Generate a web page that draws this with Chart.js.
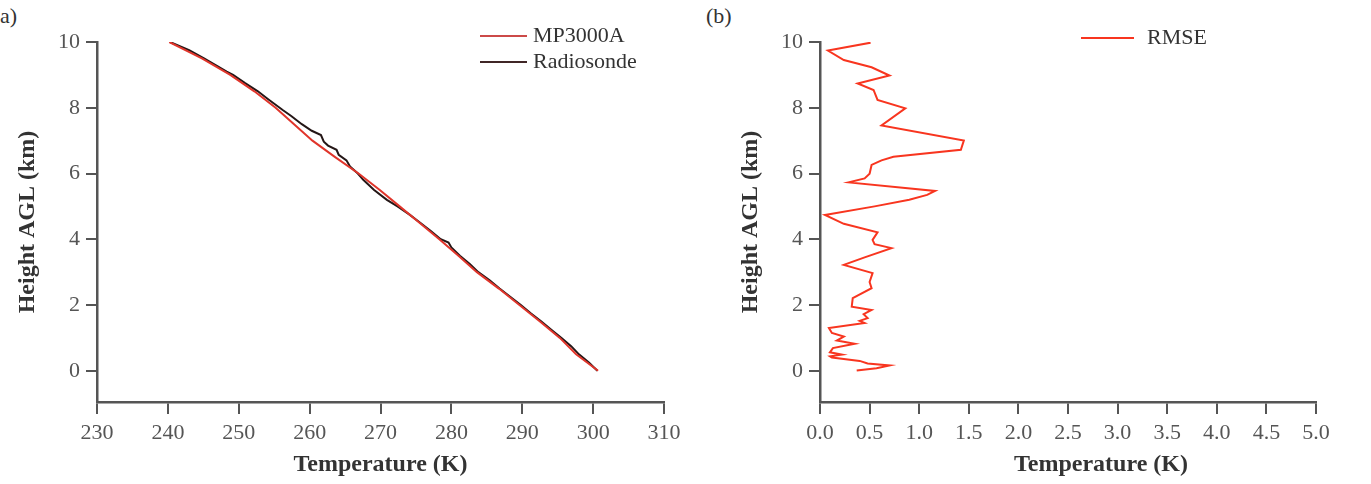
<!DOCTYPE html>
<html>
<head>
<meta charset="utf-8">
<script src="https://cdn.jsdelivr.net/npm/chart.js@4.4.1/dist/chart.umd.min.js"></script>
<style>
  body { margin: 0; background: #fff; width: 1371px; height: 484px; overflow: hidden; position: relative; font-family: "Liberation Serif", serif; }
  canvas { position: absolute; top: 0; }
  #tempChart { left: 0; }
  #rmseChart { left: 700px; }
  .tag { position: absolute; top: 3px; font-size: 22px; color: #333; }
</style>
</head>
<body>
<div class="tag" style="left:0px">a)</div>
<div class="tag" style="left:706px">(b)</div>
<canvas id="tempChart" width="700" height="484"></canvas>
<canvas id="rmseChart" width="671" height="484"></canvas>
<script>
// data block
var mpHeight = [0, 0.5, 1.0, 1.5, 2.0, 2.5, 3.0, 3.5, 4.0, 4.5, 5.0, 5.5, 6.0, 6.5, 7.0, 7.5, 8.0, 8.5, 9.0, 9.5, 10.0];
var mpTemp = [300.7, 297.6, 295.3, 292.5, 289.6, 286.7, 283.6, 281.0, 278.3, 275.5, 272.7, 269.9, 266.9, 263.6, 260.4, 257.8, 255.2, 252.2, 248.8, 244.8, 240.2];

var rsHeight = [0, 0.25, 0.5, 0.75, 1.0, 1.25, 1.5, 1.75, 2.0, 2.25, 2.5, 2.75, 3.0, 3.25, 3.5, 3.75, 3.9, 4.0, 4.25, 4.5, 4.75, 5.0, 5.2,
  5.5, 5.8, 6.0, 6.21, 6.4, 6.57, 6.72, 6.85, 6.97, 7.17, 7.3, 7.5, 7.75, 7.93, 8.25, 8.5, 8.75, 9.0, 9.1, 9.25, 9.5, 9.75, 10.0];
var rsTemp = [300.6, 299.4, 298.0, 296.9, 295.5, 294.1, 292.7, 291.2, 289.8, 288.3, 286.8, 285.4, 283.8, 282.6, 281.2, 280.0, 279.6, 278.5, 277.1, 275.6, 274.1, 272.4, 270.9,
  269.1, 267.6, 266.8, 265.7, 265.2, 264.1, 263.8, 262.6, 262.0, 261.6, 260.3, 258.9, 257.4, 256.2, 254.2, 252.7, 250.9, 249.2, 248.3, 247.1, 245.1, 243.0, 240.3];

var rmseHeight = [0.01, 0.08, 0.16, 0.22, 0.30, 0.40, 0.44, 0.49, 0.56, 0.69, 0.82, 0.92, 1.04, 1.15, 1.30, 1.45, 1.52, 1.60, 1.72, 1.85,
  1.95, 2.21, 2.51, 2.70, 2.97, 3.22, 3.45, 3.73, 3.85, 3.98, 4.21, 4.47, 4.74, 5.00, 5.20, 5.35, 5.47, 5.73, 5.85, 5.99,
  6.26, 6.40, 6.51, 6.72, 7.00, 7.46, 7.98, 8.24, 8.54, 8.74, 8.98, 9.23, 9.45, 9.74, 9.98];
var rmseValue = [0.37, 0.57, 0.70, 0.48, 0.40, 0.12, 0.10, 0.22, 0.10, 0.13, 0.35, 0.17, 0.24, 0.12, 0.09, 0.45, 0.40, 0.48, 0.44, 0.52,
  0.32, 0.33, 0.52, 0.50, 0.53, 0.24, 0.45, 0.72, 0.55, 0.53, 0.58, 0.24, 0.05, 0.55, 0.90, 1.08, 1.16, 0.29, 0.45, 0.50,
  0.52, 0.62, 0.74, 1.42, 1.45, 0.62, 0.86, 0.58, 0.54, 0.38, 0.70, 0.52, 0.24, 0.08, 0.51];

var tempTicks = [230, 240, 250, 260, 270, 280, 290, 300, 310];
var rmseTicks = [0, 0.5, 1.0, 1.5, 2.0, 2.5, 3.0, 3.5, 4.0, 4.5, 5.0];
var heightTicks = [0, 2, 4, 6, 8, 10];

function toPoints(xs, ys) {
  return xs.map(function (v, i) { return { x: v, y: ys[i] }; });
}

var serif = 'Liberation Serif';

// legend drawn inside the plot, like the figure
const inlineLegend = {
  id: 'inlineLegend',
  afterDraw(chart, args, opts) {
    const ctx = chart.ctx;
    ctx.save();
    ctx.font = '22px "' + serif + '"';
    ctx.textBaseline = 'middle';
    ctx.fillStyle = '#333';
    chart.data.datasets.forEach((ds, i) => {
      const y = opts.y + i * opts.gap;
      ctx.strokeStyle = ds.legendColor || ds.borderColor;
      ctx.lineWidth = 2;
      ctx.beginPath();
      ctx.moveTo(opts.x, y);
      ctx.lineTo(opts.x + opts.len, y);
      ctx.stroke();
      ctx.fillText(ds.label, opts.x + opts.len + opts.pad, y);
    });
    // x title placed off-centre in panel b
    if (opts.xTitle) {
      ctx.font = 'bold 24px "' + serif + '"';
      ctx.textAlign = 'center';
      ctx.fillText(opts.xTitle.text, opts.xTitle.x, opts.xTitle.y);
    }
    ctx.restore();
  }
};

function xAxis(min, max, ticks, fmt, showTitle) {
  return {
    type: 'linear', min: min, max: max,
    afterBuildTicks: s => { s.ticks = ticks.map(v => ({ value: v })); },
    afterFit: s => { s.height = 82; },
    grid: { display: true, drawOnChartArea: false, drawTicks: true, tickLength: 12, color: '#555', lineWidth: 2 },
    border: { display: true, color: '#555', width: 2.5 },
    ticks: { color: '#555', font: { family: serif, size: 22 }, padding: 6, maxRotation: 0, autoSkip: false, callback: fmt },
    title: { display: showTitle, text: 'Temperature (K)', color: '#333', font: { family: serif, size: 24, weight: 'bold' }, padding: { top: 0, bottom: 5 } }
  };
}

function yAxis(width, titlePad) {
  return {
    type: 'linear', min: -0.95, max: 10,
    afterBuildTicks: s => { s.ticks = heightTicks.map(v => ({ value: v })); },
    afterFit: s => { s.width = width; },
    grid: { display: true, drawOnChartArea: false, drawTicks: true, tickLength: 11, color: '#555', lineWidth: 2 },
    border: { display: true, color: '#555', width: 2.5 },
    ticks: { color: '#555', font: { family: serif, size: 22 }, padding: 6 },
    title: { display: true, text: 'Height AGL (km)', color: '#333', font: { family: serif, size: 24, weight: 'bold' }, padding: { top: titlePad, bottom: 0 } }
  };
}

// panel a
const config1 = {
  type: 'scatter',
  data: {
    datasets: [{
      label: 'MP3000A',
      data: toPoints(mpTemp, mpHeight),
      showLine: true,
      borderColor: '#e0352b',
      legendColor: '#cc4a48',
      borderWidth: 2,
      pointRadius: 0,
      tension: 0,
      order: 0
    }, {
      label: 'Radiosonde',
      data: toPoints(rsTemp, rsHeight),
      showLine: true,
      borderColor: '#241616',
      legendColor: '#402626',
      borderWidth: 2,
      pointRadius: 0,
      tension: 0,
      order: 1
    }]
  },
  options: {
    responsive: false,
    devicePixelRatio: 1,
    animation: false,
    layout: { padding: { left: 0, right: 36, top: 42, bottom: 0 } },
    scales: {
      x: xAxis(230, 310, tempTicks, undefined, true),
      y: yAxis(97, 13)
    },
    plugins: {
      legend: { display: false },
      tooltip: { enabled: false },
      inlineLegend: { x: 480, y: 36, gap: 26, len: 47, pad: 6 }
    }
  },
  plugins: [inlineLegend]
};

// panel b
const config2 = {
  type: 'scatter',
  data: {
    datasets: [{
      label: 'RMSE',
      data: toPoints(rmseValue, rmseHeight),
      showLine: true,
      borderColor: '#f8351f',
      borderWidth: 2,
      pointRadius: 0,
      tension: 0
    }]
  },
  options: {
    responsive: false,
    devicePixelRatio: 1,
    animation: false,
    layout: { padding: { left: 0, right: 55, top: 42, bottom: 0 } },
    scales: {
      x: xAxis(0, 5, rmseTicks, v => Number(v).toFixed(1), false),
      y: yAxis(120, 36)
    },
    plugins: {
      legend: { display: false },
      tooltip: { enabled: false },
      inlineLegend: { x: 381, y: 38, gap: 26, len: 53, pad: 13, xTitle: { text: 'Temperature (K)', x: 401, y: 465 } }
    }
  },
  plugins: [inlineLegend]
};

const tempChart = new Chart(document.getElementById('tempChart'), config1);
const rmseChart = new Chart(document.getElementById('rmseChart'), config2);
</script>
</body>
</html>
